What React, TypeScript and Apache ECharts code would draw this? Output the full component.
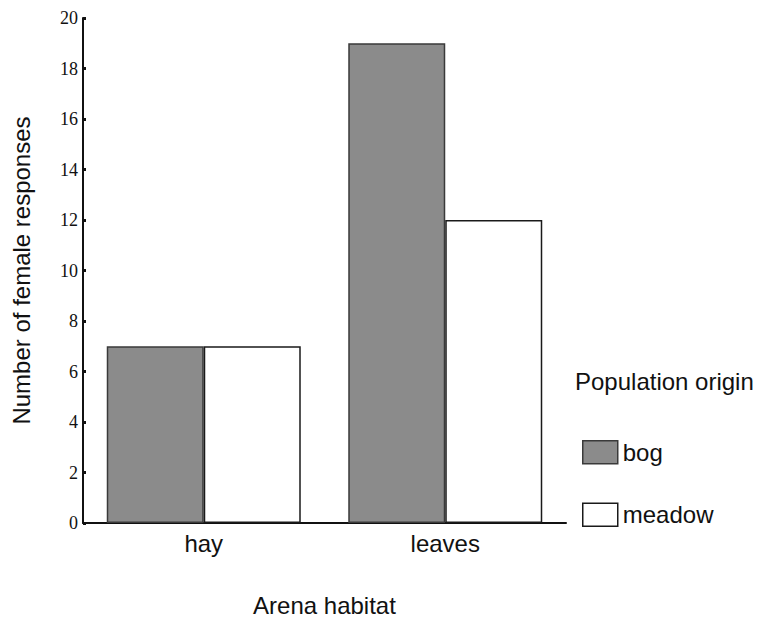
import React, { useEffect, useRef } from "react";
import * as echarts from "echarts";

// Female responses by arena habitat, split by the population the females came from
const habitats = ["hay", "leaves"];
const bogResponses = [7, 19];
const meadowResponses = [7, 12];
const yTicks = { min: 0, max: 20, interval: 2 };

const SANS = "'Liberation Sans', Arial, Helvetica, sans-serif";
const SERIF = "'Liberation Serif', 'Times New Roman', serif";

export default function App() {
  const ref = useRef<HTMLDivElement>(null);

  useEffect(() => {
    document.body.style.margin = "0";
    const chart = echarts.init(ref.current!, null, { renderer: "svg" });

    const bogStyle = { color: "#8b8b8b", borderColor: "#3a3a3a", borderWidth: 1.5 };
    const meadowStyle = { color: "#ffffff", borderColor: "#1a1a1a", borderWidth: 1.5 };

    chart.setOption({
      animation: false,
      backgroundColor: "#ffffff",
      grid: { left: 83, right: 196, top: 18, bottom: 99 },
      xAxis: {
        type: "category",
        data: habitats,
        name: "Arena habitat",
        nameLocation: "middle",
        nameGap: 70,
        nameTextStyle: { fontFamily: SANS, fontSize: 24, color: "#111" },
        axisLine: { lineStyle: { color: "#111", width: 2 } },
        axisTick: { alignWithLabel: true, length: 4, lineStyle: { color: "#111", width: 3 } },
        axisLabel: { fontFamily: SANS, fontSize: 24, color: "#111", margin: 8 },
      },
      yAxis: {
        type: "value",
        min: yTicks.min,
        max: yTicks.max,
        interval: yTicks.interval,
        name: "Number of female responses",
        nameLocation: "middle",
        nameGap: 50,
        nameTextStyle: { fontFamily: SANS, fontSize: 24, color: "#111" },
        splitLine: { show: false },
        axisLine: { show: true, lineStyle: { color: "#111", width: 2 } },
        axisTick: { show: true, inside: true, length: 3, lineStyle: { color: "#111", width: 3 } },
        axisLabel: { fontFamily: SERIF, fontSize: 18, color: "#111", margin: 5 },
      },
      legend: {
        orient: "vertical",
        left: 577,
        top: 435,
        icon: "rect",
        itemWidth: 35,
        itemHeight: 23,
        itemGap: 38,
        textStyle: { fontFamily: SANS, fontSize: 24, color: "#111" },
        data: [
          { name: "bog", itemStyle: bogStyle },
          { name: "meadow", itemStyle: meadowStyle },
        ],
      },
      graphic: [
        {
          type: "text",
          left: 575,
          top: 369,
          style: { text: "Population origin", fontFamily: SANS, fontSize: 24, fill: "#111" },
        },
      ],
      series: [
        {
          name: "bog",
          type: "bar",
          data: bogResponses,
          barWidth: 97,
          barGap: "0%",
          itemStyle: bogStyle,
        },
        {
          name: "meadow",
          type: "bar",
          data: meadowResponses,
          barWidth: 97,
          barGap: "0%",
          itemStyle: meadowStyle,
        },
      ],
    });

    return () => chart.dispose();
  }, []);

  return <div ref={ref} style={{ width: 762, height: 622 }} />;
}
